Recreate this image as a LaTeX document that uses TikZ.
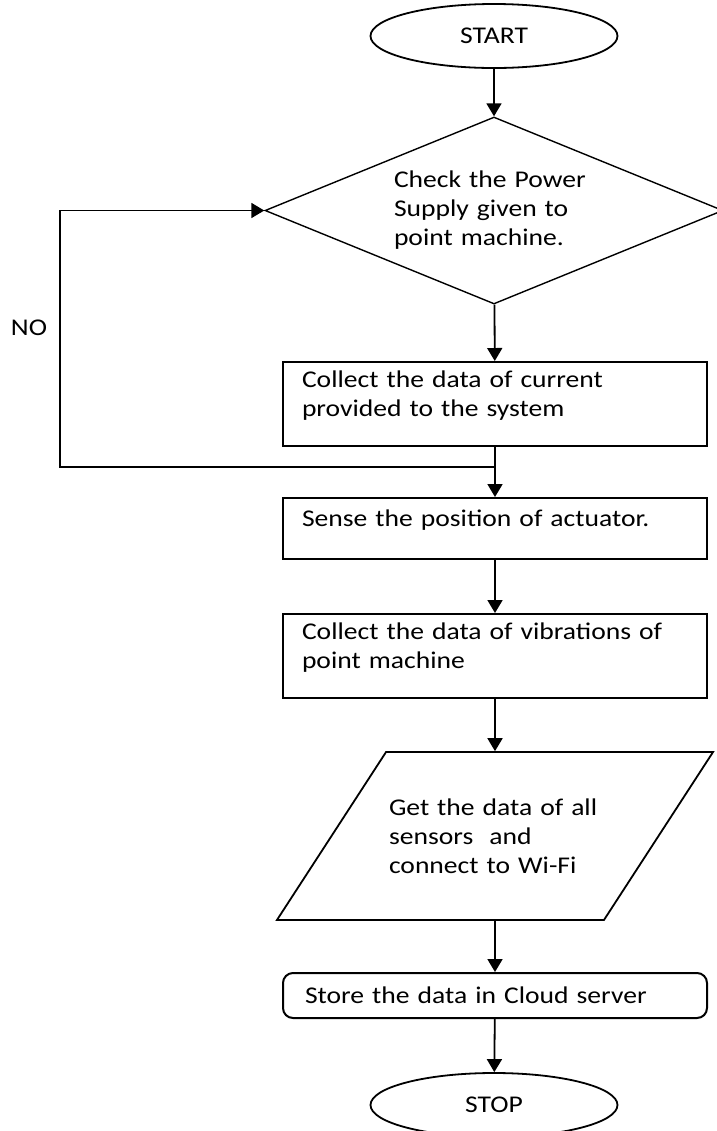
\documentclass[tikz,border=0pt]{standalone}
\usepackage{fontspec}
\setmainfont{Carlito}[FakeStretch=1.15]
\usetikzlibrary{arrows.meta}
\usetikzlibrary{shapes.geometric, positioning, calc}

\tikzset{
  terminal/.style={ellipse, draw, line width=0.9pt, minimum width=123.5pt, minimum height=32pt, inner sep=0pt},
  decision/.style={diamond, draw, line width=0.7pt, aspect=2.45, minimum width=229pt, minimum height=93.5pt, inner sep=0pt, text width=100pt, align=left},
  process/.style={rectangle, draw, line width=1pt, minimum width=212pt, text width=193pt, inner xsep=9.5pt, inner ysep=2pt, align=left, execute at end node={\par\vspace*{8pt}}},
  datain/.style={trapezium, trapezium left angle=57, trapezium right angle=123, draw, line width=0.9pt, inner xsep=1.5pt, inner ysep=23.25pt, text width=106pt, align=left},
  storebox/.style={rectangle, rounded corners=5pt, draw, line width=1pt, minimum width=212pt, minimum height=22.5pt, text width=190pt, inner xsep=11pt, align=left},
  flow/.style={-{Triangle[width=7.5pt, length=6.5pt]}, line width=0.9pt}
}

\begin{document}
\begin{tikzpicture}[x=0.5pt, y=-0.5pt, font=\fontsize{12pt}{14.5pt}\selectfont]
        \useasboundingbox (0, 0) rectangle (717, 1131);

        \node[terminal] (start) at (494, 36) {START};
        \node[decision] (check) at (494, 210.5) {Check the Power\\Supply given to\\point machine.};
        \node[process, minimum height=42pt] (current) at (495, 404) {Collect the data of current\\provided to the system};
        \node[process, minimum height=30.5pt] (sense) at (495, 528.5) {Sense the position of actuator.};
        \node[process, minimum height=42pt] (vibration) at (495, 656) {Collect the data of vibrations of\\point machine};
        \node[datain] (getdata) at (495, 836) {Get the data of all\\sensors\ \ and\\connect to Wi-Fi};
        \node[storebox] (cloud) at (495, 995.5) {Store the data in Cloud server};
        \node[terminal] (stop) at (494, 1105) {STOP};

        \node (no) at (29, 328) {NO};

        \coordinate (join) at (current.south |- 0, 467);
        \coordinate (back) at (60, 467);

        \draw[flow] (start) -- (check);
        \draw[flow] (check) -- (current);
        \draw[line width=0.9pt] (current.south) -- (join);
        \draw[flow] (join) -- (sense.north);
        \draw[flow] (join) -- (back) |- (check.west);
        \draw[flow] (sense) -- (vibration);
        \draw[flow] (vibration) -- (getdata);
        \draw[flow] (getdata) -- (cloud);
        \draw[flow] (cloud) -- (stop);

      \end{tikzpicture}
\end{document}
